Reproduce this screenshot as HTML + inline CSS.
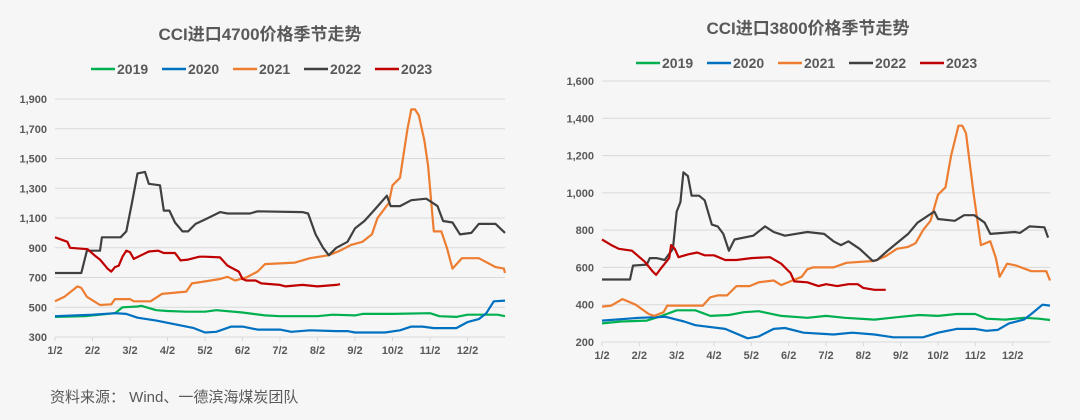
<!DOCTYPE html>
<html><head><meta charset="utf-8"><style>
html,body{margin:0;padding:0;background:#f6f6f6;}
svg{display:block;}
text{font-family:"Liberation Sans","Noto Sans CJK SC",sans-serif;}
</style></head><body>
<svg id="root" width="1080" height="420" viewBox="0 0 1080 420" xmlns="http://www.w3.org/2000/svg">
<rect width="1080" height="420" fill="#f6f6f6"/>
<text x="260" y="40" text-anchor="middle" font-size="17" font-weight="bold" fill="#595959">CCI进口4700价格季节走势</text>
<text x="808" y="34" text-anchor="middle" font-size="17" font-weight="bold" fill="#595959">CCI进口3800价格季节走势</text>
<text x="50" y="402" font-size="15" fill="#595959">资料来源：  Wind、一德滨海煤炭团队</text>
<g id="left"></g>
<g id="right"></g>
</svg>
<script>
const months = ["1/2","2/2","3/2","4/2","5/2","6/2","7/2","8/2","9/2","10/2","11/2","12/2"];
const years = ["2019","2020","2021","2022","2023"];
const colors = ["#00b050","#0070c0","#ed7d31","#404040","#c00000"];
const leftTicks = [300,500,700,900,1100,1300,1500,1700,1900];
const rightTicks = [200,400,600,800,1000,1200,1400,1600];
const left2019 = [[0,435],[0.8,440],[1.6,460],[1.8,500],[2.2,505],[2.3,510],[2.7,480],[3.0,475],[3.5,470],[4.0,470],[4.3,480],[5.0,465],[5.6,445],[6.0,440],[7.0,440],[7.4,450],[8.0,445],[8.2,455],[9.0,455],[10.0,460],[10.25,440],[10.7,435],[11.0,450],[11.8,450],[12,440]];
const left2020 = [[0,440],[1.0,450],[1.6,460],[1.9,455],[2.2,430],[2.7,410],[3.1,390],[3.7,360],[4.0,330],[4.3,335],[4.7,370],[5.0,370],[5.4,350],[6.0,350],[6.3,335],[6.8,345],[7.5,340],[7.8,340],[8.0,330],[8.8,330],[9.2,345],[9.5,370],[9.8,370],[10.1,360],[10.7,360],[11.0,400],[11.3,420],[11.5,460],[11.7,540],[12,545]];
const left2021 = [[0,540],[0.25,570],[0.6,640],[0.7,630],[0.85,570],[1.2,515],[1.5,520],[1.6,555],[2.0,555],[2.1,540],[2.55,540],[2.85,590],[3.5,605],[3.65,660],[3.9,670],[4.4,690],[4.6,705],[4.8,680],[5.1,700],[5.4,740],[5.6,790],[6.4,800],[6.8,830],[7.3,850],[7.6,880],[7.9,920],[8.2,940],[8.45,990],[8.6,1100],[8.9,1200],[9.0,1320],[9.2,1370],[9.4,1700],[9.5,1830],[9.6,1830],[9.7,1790],[9.85,1620],[9.95,1450],[10.1,1010],[10.3,1010],[10.45,900],[10.6,760],[10.85,830],[11.3,830],[11.75,770],[11.97,760],[12,730]];
const left2022 = [[0,730],[0.7,730],[0.85,880],[1.2,880],[1.25,970],[1.75,970],[1.9,1010],[2.05,1200],[2.2,1400],[2.4,1410],[2.5,1330],[2.8,1320],[2.9,1150],[3.05,1150],[3.2,1070],[3.4,1010],[3.55,1010],[3.75,1060],[4.0,1090],[4.4,1140],[4.6,1130],[5.2,1130],[5.4,1145],[6.6,1140],[6.75,1130],[6.95,990],[7.15,900],[7.3,850],[7.5,900],[7.8,940],[8.0,1030],[8.25,1080],[8.5,1150],[8.85,1250],[8.95,1180],[9.2,1180],[9.5,1220],[9.9,1230],[10.2,1180],[10.35,1080],[10.6,1070],[10.8,990],[11.1,1000],[11.3,1060],[11.75,1060],[12,1000]];
const left2023 = [[0,970],[0.33,940],[0.4,900],[0.87,890],[1.05,850],[1.2,820],[1.4,760],[1.5,740],[1.6,770],[1.7,780],[1.8,840],[1.9,880],[2.0,870],[2.1,825],[2.3,850],[2.5,875],[2.75,880],[2.9,865],[3.2,865],[3.35,815],[3.55,820],[3.85,840],[4.0,840],[4.4,835],[4.6,780],[4.9,740],[5.0,690],[5.1,680],[5.35,680],[5.5,660],[6.0,650],[6.15,640],[6.6,650],[7.0,640],[7.5,650],[7.6,655]];
const right2019 = [[0,300],[0.5,310],[1.2,315],[1.6,340],[2.0,370],[2.5,370],[2.9,340],[3.4,345],[3.8,360],[4.2,365],[4.8,340],[5.5,330],[6.0,340],[6.5,330],[7.3,320],[8.0,335],[8.5,345],[9.0,340],[9.5,350],[10.0,350],[10.3,325],[10.8,320],[11.3,330],[11.7,325],[12,318]];
const right2020 = [[0,315],[1.0,330],[1.7,335],[2.2,310],[2.5,290],[3.3,270],[3.9,220],[4.2,230],[4.6,270],[4.9,275],[5.4,250],[6.2,240],[6.7,250],[7.3,240],[7.8,225],[8.6,225],[9.0,250],[9.5,270],[10.0,270],[10.3,260],[10.6,265],[10.9,300],[11.3,320],[11.5,350],[11.8,400],[12,395]];
const right2021 = [[0,390],[0.25,395],[0.55,430],[0.9,400],[1.25,350],[1.4,340],[1.65,360],[1.75,395],[2.5,395],[2.7,395],[2.9,440],[3.1,450],[3.35,450],[3.6,500],[3.95,500],[4.2,520],[4.6,530],[4.8,505],[5.1,530],[5.35,550],[5.5,590],[5.65,600],[6.2,600],[6.55,625],[7.3,635],[7.6,660],[7.9,700],[8.2,710],[8.4,730],[8.6,800],[8.8,850],[9.0,990],[9.2,1030],[9.35,1200],[9.55,1360],[9.65,1360],[9.75,1320],[9.95,1000],[10.15,720],[10.4,740],[10.55,650],[10.65,550],[10.85,620],[11.1,610],[11.5,580],[11.9,580],[12,530]];
const right2022 = [[0,535],[0.75,535],[0.83,610],[1.2,615],[1.28,650],[1.46,650],[1.68,640],[1.9,700],[2.0,900],[2.1,950],[2.18,1110],[2.3,1090],[2.4,985],[2.6,985],[2.75,960],[2.94,830],[3.1,820],[3.25,780],[3.4,690],[3.55,750],[4.05,770],[4.37,820],[4.6,790],[4.9,770],[5.5,790],[5.95,780],[6.2,740],[6.4,720],[6.6,740],[6.9,700],[7.25,635],[7.37,640],[7.65,690],[8.2,780],[8.45,840],[8.9,900],[9.0,860],[9.45,850],[9.7,880],[9.97,880],[10.25,840],[10.4,780],[11.05,790],[11.2,785],[11.45,820],[11.85,815],[11.95,760]];
const right2023 = [[0,750],[0.25,720],[0.45,700],[0.8,690],[1.15,630],[1.35,580],[1.45,560],[1.6,600],[1.8,650],[1.85,720],[1.95,700],[2.05,655],[2.3,670],[2.55,680],[2.75,665],[3.0,665],[3.3,640],[3.6,640],[4.0,650],[4.5,655],[4.8,620],[5.05,570],[5.15,525],[5.5,520],[5.8,500],[6.0,510],[6.3,500],[6.6,510],[6.85,510],[7.0,490],[7.3,480],[7.6,480]];

const NS = "http://www.w3.org/2000/svg";
function mk(tag, attrs, parent){const e=document.createElementNS(NS,tag);for(const k in attrs)e.setAttribute(k,attrs[k]);parent.appendChild(e);return e;}

function drawChart(g, cfg, series, ticks){
  const xS = m => cfg.x0 + m*(cfg.x1-cfg.x0)/12;
  const yS = v => cfg.yTop + (cfg.vMax - v)*(cfg.yBot-cfg.yTop)/(cfg.vMax-cfg.vMin);
  ticks.forEach(t=>{
    const y=yS(t);
    if(t!==cfg.vMin){
      const ln=mk("line",{x1:cfg.x0,x2:cfg.x1,y1:y,y2:y,stroke:"#d9d9d9","stroke-width":1},g);
      
      
    }
    const tx=mk("text",{x:cfg.x0-8,y:y+4,"text-anchor":"end","font-size":11,"font-weight":"bold",fill:"#595959"},g);
    tx.textContent=t.toLocaleString("en-US");
    
    
  });
  const ax=mk("line",{x1:cfg.x0,x2:cfg.x1,y1:cfg.yBot,y2:cfg.yBot,stroke:"#d9d9d9","stroke-width":1},g);
  
  
  months.forEach((m,i)=>{
    const x=xS(i*cfg.mStep);
    const tk=mk("line",{x1:x,x2:x,y1:cfg.yBot,y2:cfg.yBot+4,stroke:"#d9d9d9"},g);
    
    
    const tx=mk("text",{x:x,y:cfg.yBot+17,"text-anchor":"middle","font-size":11,"font-weight":"bold",fill:"#595959"},g);
    tx.textContent=m;
    
    
  });
  series.forEach((s,i)=>{
    const d=s.map((p,j)=>(j?"L":"M")+xS(p[0]*cfg.mStep).toFixed(1)+" "+yS(p[1]).toFixed(1)).join("");
    const p=mk("path",{d:d,fill:"none",stroke:colors[i],"stroke-width":2.2,"stroke-linejoin":"round"},g);
    
    
  });
  years.forEach((yr,i)=>{
    const lx=cfg.legX+i*71;
    const ll=mk("line",{x1:lx,x2:lx+24,y1:cfg.legY,y2:cfg.legY,stroke:colors[i],"stroke-width":2.5},g);
    
    
    const lt=mk("text",{x:lx+26,y:cfg.legY+5,"font-size":14,"font-weight":"bold",fill:"#595959"},g);
    lt.textContent=yr;
    
    
  });
}
// x positions: month index 0..11 at ticks; series x in months (12 = end)
drawChart(document.getElementById("left"),
  {x0:55,x1:505,yTop:99,yBot:337,vMin:300,vMax:1900,legX:91,legY:69,mStep:1},
  [left2019,left2020,left2021,left2022,left2023], leftTicks);
drawChart(document.getElementById("right"),
  {x0:602,x1:1050,yTop:81,yBot:342,vMin:200,vMax:1600,legX:636,legY:63,mStep:1},
  [right2019,right2020,right2021,right2022,right2023], rightTicks);
</script>
</body></html>
